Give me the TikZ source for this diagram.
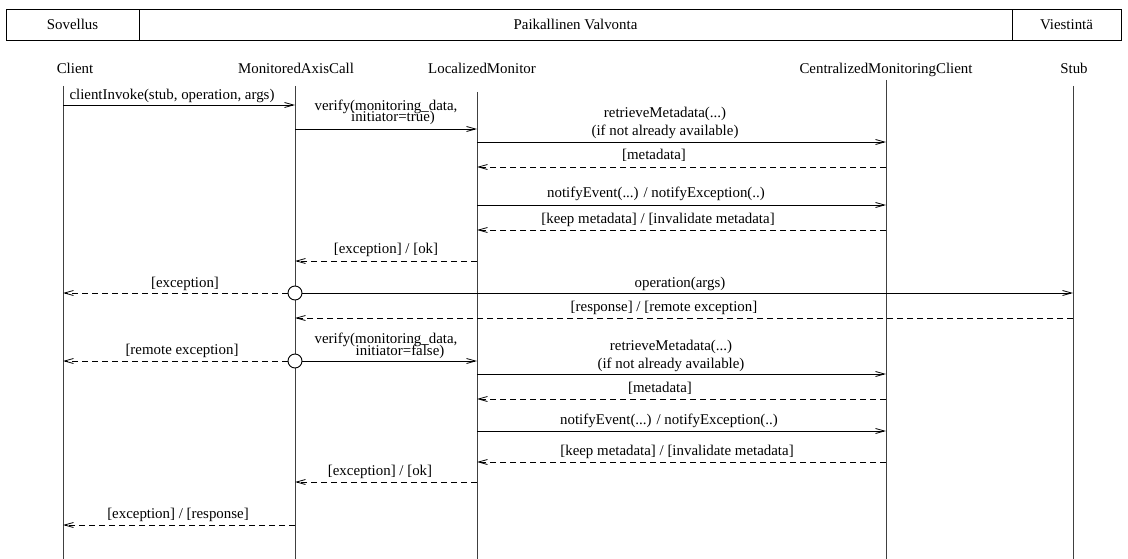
\documentclass[tikz,border=0pt]{standalone}
\usepackage{fontspec}
\setmainfont{Liberation Serif}
\usetikzlibrary{arrows.meta}
\begin{document}
\begin{tikzpicture}[x=1pt,y=-1pt,
  every node/.style={font=\fontsize{14.9}{16}\selectfont, inner sep=0pt},
  life/.style={line width=1pt, black!75},
  call/.style={line width=0.9pt, -{Straight Barb[length=9pt,width=5pt,line width=0.8pt]}},
  ret/.style={call, dash pattern=on 6pt off 4pt},
  lbl/.style={anchor=base},
  circ/.style={circle, draw, fill=white, line width=0.9pt, minimum size=14pt}]
\useasboundingbox (0,0) rectangle (1128,559);

% swimlane header
\draw[line width=1pt] (6,10) rectangle (1121,41);
\draw[line width=1pt] (139,10) -- (139,41) (1012,10) -- (1012,41);
\node[lbl] (h1) at (72.5,30) {Sovellus};
\node[lbl] (h2) at (575.5,30) {Paikallinen Valvonta};
\node[lbl] (h3) at (1066.5,30) {Viestintä};

% participants
\node[lbl] (nClient) at (75,74) {Client};
\node[lbl] (nMac) at (296,74) {MonitoredAxisCall};
\node[lbl] (nLm) at (482,74) {LocalizedMonitor};
\node[lbl] (nCmc) at (886,74) {CentralizedMonitoringClient};
\node[lbl] (nStub) at (1074,74) {Stub};

% lifelines
\coordinate (client) at (63,86);   \coordinate (clientEnd) at (63,559);
\coordinate (mac) at (295,86);     \coordinate (macEnd) at (295,559);
\coordinate (lm) at (477,92);      \coordinate (lmEnd) at (477,559);
\coordinate (cmc) at (886,80);     \coordinate (cmcEnd) at (886,559);
\coordinate (stub) at (1073,86);   \coordinate (stubEnd) at (1073,559);
\draw[life] (client) -- (clientEnd);
\draw[life] (mac) -- (macEnd);
\draw[life] (lm) -- (lmEnd);
\draw[life] (cmc) -- (cmcEnd);
\draw[life] (stub) -- (stubEnd);

% message rows
\coordinate (r1) at (0,105);
\coordinate (r2) at (0,129);
\coordinate (r3) at (0,142);
\coordinate (r4) at (0,167);
\coordinate (r5) at (0,205);
\coordinate (r6) at (0,230);
\coordinate (r7) at (0,261);
\coordinate (r8) at (0,293);
\coordinate (r9) at (0,318);
\coordinate (r10) at (0,361);
\coordinate (r11) at (0,374);
\coordinate (r12) at (0,399);
\coordinate (r13) at (0,431);
\coordinate (r14) at (0,462);
\coordinate (r15) at (0,482);
\coordinate (r16) at (0,525);

% first call: initiator side
\draw[call] (client |- r1) -- (mac |- r1);
\node[lbl] (t1) at (172,100) {clientInvoke(stub, operation, args)};

\draw[call] (mac |- r2) -- (lm |- r2);
\node[lbl] (t2a) at (386,111) {verify(monitoring\_data,};
\node[lbl] (t2b) at (393,122) {initiator=true)};

\draw[call] (lm |- r3) -- (cmc |- r3);
\node[lbl] (t3a) at (665,118) {retrieveMetadata(...)};
\node[lbl] (t3b) at (665,136) {(if not already available)};

\draw[ret] (cmc |- r4) -- (lm |- r4);
\node[lbl] (t4) at (654,160) {[metadata]};

\draw[call] (lm |- r5) -- (cmc |- r5);
\node[lbl] (t5) at (656,198) {notifyEvent(...) / notifyException(..)};

\draw[ret] (cmc |- r6) -- (lm |- r6);
\node[lbl] (t6) at (658,223) {[keep metadata] / [invalidate metadata]};

\draw[ret] (lm |- r7) -- (mac |- r7);
\node[lbl] (t7) at (386,254) {[exception] / [ok]};

% remote operation
\node[circ] (k1) at (mac |- r8) {};
\draw[call] (k1.east) -- (stub |- r8);
\node[lbl] (t8) at (680,287) {operation(args)};
\draw[ret] (k1.west) -- (client |- r8);
\node[lbl] (t8b) at (185,287) {[exception]};

\draw[ret] (stub |- r9) -- (mac |- r9);
\node[lbl] (t9) at (664,311) {[response] / [remote exception]};

% second check: response side
\node[circ] (k2) at (mac |- r10) {};
\draw[call] (k2.east) -- (lm |- r10);
\node[lbl] (t10a) at (386,343) {verify(monitoring\_data,};
\node[lbl] (t10b) at (400,355) {initiator=false)};
\draw[ret] (k2.west) -- (client |- r10);
\node[lbl] (t10c) at (182,354) {[remote exception]};

\draw[call] (lm |- r11) -- (cmc |- r11);
\node[lbl] (t11a) at (671,350) {retrieveMetadata(...)};
\node[lbl] (t11b) at (671,368) {(if not already available)};

\draw[ret] (cmc |- r12) -- (lm |- r12);
\node[lbl] (t12) at (660,392) {[metadata]};

\draw[call] (lm |- r13) -- (cmc |- r13);
\node[lbl] (t13) at (669,424) {notifyEvent(...) / notifyException(..)};

\draw[ret] (cmc |- r14) -- (lm |- r14);
\node[lbl] (t14) at (677,455) {[keep metadata] / [invalidate metadata]};

\draw[ret] (lm |- r15) -- (mac |- r15);
\node[lbl] (t15) at (380,475) {[exception] / [ok]};

\draw[ret] (mac |- r16) -- (client |- r16);
\node[lbl] (t16) at (178,518) {[exception] / [response]};
\end{tikzpicture}
\end{document}
